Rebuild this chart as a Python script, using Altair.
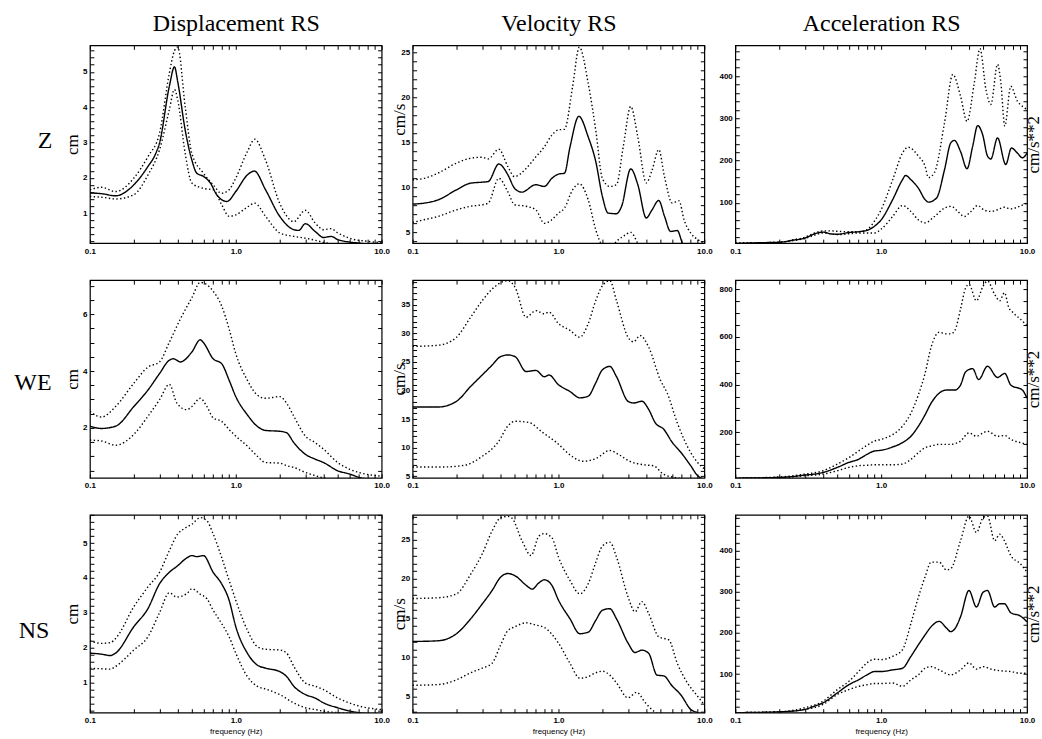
import math
import altair as alt
import pandas as pd

# ---------------- data ----------------
# Z component
ZD_F_MEAN = [0.1, 0.12, 0.15, 0.2, 0.25, 0.28, 0.3, 0.35, 0.38, 0.4, 0.45, 0.5, 0.54, 0.6, 0.67, 0.74, 0.8, 0.87, 1.0, 1.2, 1.34, 1.6, 2.0, 2.5, 2.7, 3.0, 3.5, 4.0, 4.5, 5.0, 6.0, 7.0, 8.0, 10.0]
ZD_MEAN = [1.57, 1.55, 1.49, 1.80, 2.32, 2.65, 2.98, 4.58, 5.14, 4.72, 3.35, 2.5, 2.13, 2.04, 1.85, 1.52, 1.38, 1.33, 1.61, 2.08, 2.19, 1.66, 0.91, 0.53, 0.51, 0.70, 0.48, 0.31, 0.34, 0.25, 0.18, 0.15, 0.12, 0.08]
ZD_F_UP = [0.1, 0.12, 0.15, 0.2, 0.25, 0.3, 0.35, 0.38, 0.4, 0.45, 0.5, 0.6, 0.7, 0.8, 0.9, 1.0, 1.2, 1.35, 1.6, 2.0, 2.5, 3.0, 3.5, 4.0, 4.5, 5.0, 6.0, 8.0, 10.0]
ZD_UP = [1.66, 1.73, 1.61, 1.99, 2.6, 3.26, 4.95, 5.6, 5.7, 4.01, 2.69, 2.13, 1.8, 1.56, 1.66, 1.99, 2.74, 3.09, 2.5, 1.28, 0.76, 1.08, 0.72, 0.53, 0.56, 0.44, 0.29, 0.2, 0.16]
ZD_F_LO = [0.1, 0.12, 0.15, 0.2, 0.25, 0.3, 0.35, 0.38, 0.4, 0.45, 0.5, 0.6, 0.7, 0.8, 0.9, 1.0, 1.2, 1.35, 1.6, 2.0, 2.5, 3.0, 3.5, 4.0, 4.5, 5.0, 6.0, 8.0, 10.0]
ZD_LO = [1.47, 1.45, 1.40, 1.52, 2.08, 2.79, 3.92, 4.5, 4.2, 2.69, 1.85, 1.70, 1.66, 1.24, 0.91, 0.95, 1.17, 1.28, 0.91, 0.44, 0.34, 0.29, 0.23, 0.17, 0.13, 0.10, 0.08, 0.06, 0.05]

ZV_F_MEAN = [0.1, 0.12, 0.15, 0.2, 0.25, 0.3, 0.33, 0.39, 0.45, 0.5, 0.56, 0.7, 0.8, 0.9, 1.0, 1.1, 1.2, 1.38, 1.6, 1.8, 2.0, 2.19, 2.5, 2.71, 3.13, 3.5, 4.0, 4.38, 4.87, 5.33, 5.87, 6.53, 7.07, 8.0, 10.0]
ZV_MEAN = [8.14, 8.25, 8.62, 9.73, 10.47, 10.58, 10.65, 12.6, 11.4, 9.9, 9.47, 10.3, 10.1, 11.0, 11.47, 11.58, 14.5, 17.9, 15.6, 12.9, 9.0, 7.14, 7.07, 7.9, 12.06, 10.3, 6.6, 7.5, 8.55, 6.8, 5.1, 5.2, 3.8, 2.5, 1.5]
ZV_F_UP = [0.1, 0.12, 0.15, 0.2, 0.25, 0.3, 0.33, 0.39, 0.45, 0.5, 0.6, 0.7, 0.8, 0.9, 1.0, 1.1, 1.25, 1.39, 1.6, 1.8, 2.0, 2.25, 2.5, 2.78, 3.13, 3.5, 4.0, 4.38, 4.87, 5.33, 6.03, 6.71, 7.26, 8.08, 9.0, 10.0]
ZV_UP = [10.84, 11.0, 11.6, 12.7, 13.24, 13.35, 13.17, 14.24, 12.3, 11.2, 12.1, 13.4, 14.5, 15.8, 16.4, 16.46, 21.2, 25.6, 21.56, 16.4, 11.0, 10.1, 10.3, 14.5, 19.0, 15.6, 10.5, 11.9, 14.2, 11.2, 8.25, 8.5, 6.4, 4.9, 4.2, 3.8]
ZV_F_LO = [0.1, 0.12, 0.15, 0.2, 0.25, 0.3, 0.33, 0.39, 0.45, 0.5, 0.6, 0.7, 0.8, 0.9, 1.0, 1.1, 1.25, 1.39, 1.6, 1.8, 2.0, 2.25, 2.5, 2.78, 3.13, 3.5, 4.0, 5.0, 10.0]
ZV_LO = [6.1, 6.4, 6.77, 7.5, 7.9, 8.07, 8.25, 11.0, 9.5, 8.07, 7.9, 7.5, 6.0, 6.4, 7.14, 7.7, 9.73, 10.4, 8.6, 5.3, 3.5, 3.0, 4.0, 4.55, 5.0, 3.8, 2.5, 2.0, 1.5]

ZA_F_MEAN = [0.1, 0.15, 0.2, 0.25, 0.3, 0.35, 0.4, 0.45, 0.5, 0.6, 0.7, 0.8, 0.9, 1.0, 1.2, 1.4, 1.47, 1.6, 1.8, 2.0, 2.11, 2.4, 2.72, 3.0, 3.18, 3.5, 3.88, 4.24, 4.59, 4.96, 5.36, 5.65, 6.28, 7.15, 7.82, 8.59, 9.29, 10.0]
ZA_MEAN = [4, 6, 7, 12, 17, 27, 31, 27, 26, 30, 32, 35, 45, 60, 108, 155, 165, 155, 135, 108, 102, 112, 179, 242, 248, 222, 181, 234, 283, 262, 211, 204, 254, 191, 230, 218, 207, 218]
ZA_F_UP = [0.1, 0.2, 0.25, 0.3, 0.35, 0.4, 0.45, 0.5, 0.6, 0.7, 0.8, 0.9, 1.0, 1.2, 1.4, 1.53, 1.8, 2.0, 2.11, 2.32, 2.72, 3.1, 3.5, 3.88, 4.35, 4.76, 5.23, 5.65, 6.28, 6.62, 7.04, 7.74, 8.59, 9.29, 10.0]
ZA_UP = [5, 7, 13, 19, 29, 34, 34, 33, 32, 32, 37, 57, 84, 155, 218, 232, 211, 187, 160, 172, 290, 404, 353, 293, 384, 465, 368, 333, 428, 384, 282, 376, 341, 329, 321]
ZA_F_LO = [0.1, 0.2, 0.25, 0.3, 0.35, 0.4, 0.45, 0.5, 0.6, 0.7, 0.8, 0.9, 1.0, 1.2, 1.4, 1.6, 1.8, 2.0, 2.32, 2.72, 3.02, 3.35, 3.72, 4.13, 4.59, 5.09, 5.65, 6.28, 6.97, 7.74, 8.59, 10.0]
ZA_LO = [5, 7, 11, 16, 24, 29, 27, 25, 27, 29, 29, 29, 38, 68, 94, 80, 60, 53, 68, 88, 92, 80, 68, 80, 94, 83, 80, 84, 90, 86, 90, 100]

# WE component
WD_F_MEAN = [0.1, 0.12, 0.15, 0.2, 0.25, 0.3, 0.35, 0.375, 0.417, 0.5, 0.571, 0.6, 0.7, 0.8, 0.9, 1.0, 1.2, 1.4, 1.6, 2.0, 2.23, 2.5, 3.0, 3.5, 4.0, 5.0, 6.0, 7.0, 10.0]
WD_MEAN = [2.06, 1.98, 2.06, 2.75, 3.33, 3.91, 4.38, 4.43, 4.32, 4.67, 5.1, 5.0, 4.43, 4.26, 3.68, 3.1, 2.46, 2.06, 1.91, 1.88, 1.83, 1.48, 1.07, 0.9, 0.78, 0.49, 0.38, 0.26, 0.15]
WD_F_UP = [0.1, 0.12, 0.15, 0.2, 0.25, 0.3, 0.35, 0.417, 0.5, 0.571, 0.634, 0.7, 0.8, 0.9, 1.0, 1.2, 1.4, 1.6, 2.0, 2.23, 2.5, 3.0, 3.5, 4.0, 5.0, 6.0, 7.0, 10.0]
WD_UP = [2.58, 2.38, 2.75, 3.57, 4.14, 4.32, 5.01, 5.83, 6.58, 7.12, 7.04, 6.81, 6.29, 5.48, 4.61, 3.68, 3.16, 3.04, 3.1, 2.87, 2.41, 1.71, 1.48, 1.25, 0.78, 0.55, 0.43, 0.3]
WD_F_LO = [0.1, 0.12, 0.15, 0.2, 0.25, 0.3, 0.35, 0.395, 0.462, 0.5, 0.571, 0.634, 0.7, 0.8, 0.9, 1.0, 1.2, 1.4, 1.6, 2.0, 2.23, 2.5, 3.0, 3.5, 4.0, 5.0, 10.0]
WD_LO = [1.57, 1.54, 1.39, 1.77, 2.41, 2.99, 3.53, 2.87, 2.64, 2.75, 3.04, 2.75, 2.35, 2.23, 1.94, 1.71, 1.36, 1.01, 0.78, 0.76, 0.67, 0.61, 0.43, 0.32, 0.24, 0.18, 0.12]

WV_F_MEAN = [0.1, 0.15, 0.2, 0.25, 0.3, 0.35, 0.4, 0.45, 0.505, 0.6, 0.7, 0.8, 0.861, 1.0, 1.2, 1.4, 1.6, 1.8, 2.0, 2.25, 2.5, 3.0, 3.27, 3.73, 4.15, 4.62, 5.27, 6.03, 6.89, 8.08, 8.99, 10.0]
WV_MEAN = [17.1, 17.1, 18.1, 20.7, 22.7, 24.4, 25.9, 26.2, 25.9, 23.3, 23.5, 22.4, 22.7, 21.0, 19.8, 18.7, 19.0, 21.3, 23.6, 24.2, 22.4, 18.1, 17.8, 18.1, 16.7, 14.3, 13.2, 10.9, 9.2, 6.8, 5.1, 4.5]
WV_F_UP = [0.1, 0.15, 0.2, 0.25, 0.3, 0.35, 0.45, 0.505, 0.6, 0.7, 0.8, 0.861, 1.0, 1.2, 1.4, 1.6, 1.8, 2.0, 2.25, 2.5, 3.0, 3.27, 3.63, 4.15, 5.0, 5.57, 6.53, 8.08, 8.99, 10.0]
WV_UP = [27.7, 27.9, 29.3, 32.8, 35.7, 37.7, 39.2, 38.0, 32.8, 33.96, 33.4, 33.7, 31.7, 30.5, 29.3, 31.7, 35.7, 38.3, 39.2, 35.7, 29.3, 28.5, 29.6, 27.6, 21.8, 19.5, 14.3, 9.1, 7.4, 6.3]
WV_F_LO = [0.1, 0.156, 0.227, 0.297, 0.387, 0.454, 0.505, 0.626, 0.774, 0.957, 1.25, 1.47, 1.81, 2.25, 2.62, 3.09, 3.84, 4.5, 5.27, 6.53, 10.0]
WV_LO = [6.6, 6.6, 6.9, 8.4, 11.0, 13.9, 14.6, 14.4, 12.7, 11.0, 8.4, 7.6, 8.1, 9.5, 8.7, 7.6, 7.0, 6.8, 5.3, 4.7, 4.0]

WA_F_MEAN = [0.1, 0.2, 0.25, 0.3, 0.35, 0.4, 0.5, 0.6, 0.7, 0.8, 0.9, 1.0, 1.2, 1.4, 1.6, 1.8, 2.0, 2.2, 2.5, 2.8, 3.2, 3.5, 3.8, 4.24, 4.66, 5.36, 6.28, 7.04, 7.74, 9.29, 10.0]
WA_MEAN = [7, 10, 14, 20, 24, 31, 52, 73, 86, 107, 121, 124, 138, 156, 183, 225, 273, 322, 364, 377, 377, 398, 454, 467, 421, 477, 430, 447, 398, 377, 343]
WA_F_UP = [0.1, 0.2, 0.3, 0.4, 0.5, 0.6, 0.7, 0.8, 0.9, 1.0, 1.2, 1.4, 1.6, 1.8, 2.0, 2.2, 2.5, 2.8, 3.0, 3.2, 3.5, 3.8, 4.0, 4.5, 5.0, 5.36, 6.0, 6.5, 7.0, 7.5, 8.0, 9.0, 10.0]
WA_UP = [7, 12, 24, 38, 66, 93, 121, 145, 163, 170, 190, 225, 280, 357, 447, 557, 620, 613, 613, 627, 717, 807, 821, 752, 814, 835, 779, 752, 786, 724, 703, 675, 648]
WA_F_LO = [0.1, 0.2, 0.3, 0.4, 0.5, 0.6, 0.7, 0.8, 0.9, 1.0, 1.2, 1.4, 1.6, 1.8, 2.0, 2.2, 2.5, 3.0, 3.5, 4.0, 4.5, 5.0, 5.36, 6.28, 7.04, 7.74, 9.0, 10.0]
WA_LO = [7, 8, 17, 24, 38, 52, 59, 61, 63, 63, 63, 66, 86, 114, 135, 142, 149, 149, 163, 197, 183, 197, 204, 183, 186, 170, 156, 149]

# NS component
ND_F_MEAN = [0.1, 0.12, 0.138, 0.15, 0.2, 0.25, 0.3, 0.35, 0.4, 0.45, 0.5, 0.541, 0.6, 0.7, 0.8, 0.9, 1.0, 1.2, 1.4, 1.6, 2.0, 2.23, 2.5, 3.0, 3.5, 4.0, 5.0, 6.0, 7.0, 10.0]
ND_MEAN = [1.84, 1.81, 1.77, 1.84, 2.6, 3.12, 3.83, 4.16, 4.35, 4.54, 4.64, 4.61, 4.64, 4.16, 3.83, 3.36, 2.6, 1.84, 1.5, 1.41, 1.31, 1.17, 0.89, 0.65, 0.55, 0.41, 0.27, 0.18, 0.13, 0.08]
ND_F_UP = [0.1, 0.12, 0.138, 0.15, 0.2, 0.25, 0.3, 0.35, 0.4, 0.45, 0.5, 0.571, 0.634, 0.7, 0.8, 0.9, 1.0, 1.2, 1.4, 1.6, 2.0, 2.23, 2.5, 3.0, 3.5, 4.0, 5.0, 6.0, 7.0, 10.0]
ND_UP = [2.19, 2.12, 2.14, 2.26, 3.17, 3.74, 4.16, 4.78, 5.26, 5.43, 5.54, 5.73, 5.64, 5.26, 4.59, 3.93, 3.36, 2.5, 2.03, 1.95, 1.93, 1.84, 1.46, 0.98, 0.89, 0.79, 0.55, 0.41, 0.32, 0.22]
ND_F_LO = [0.1, 0.12, 0.138, 0.15, 0.2, 0.25, 0.3, 0.35, 0.395, 0.462, 0.5, 0.571, 0.634, 0.7, 0.8, 0.9, 1.0, 1.2, 1.4, 1.6, 2.0, 2.5, 3.0, 3.5, 4.0, 5.0, 10.0]
ND_LO = [1.41, 1.39, 1.38, 1.46, 1.93, 2.31, 3.0, 3.57, 3.45, 3.55, 3.69, 3.53, 3.4, 3.07, 2.69, 2.31, 1.84, 1.17, 0.89, 0.81, 0.65, 0.41, 0.27, 0.22, 0.17, 0.13, 0.08]

NV_F_MEAN = [0.1, 0.15, 0.2, 0.25, 0.3, 0.35, 0.4, 0.45, 0.505, 0.6, 0.66, 0.734, 0.8, 0.9, 1.0, 1.2, 1.4, 1.6, 1.8, 2.0, 2.25, 2.5, 3.0, 3.35, 3.73, 4.15, 4.74, 5.27, 6.03, 6.89, 8.08, 8.99, 10.0]
NV_MEAN = [12.0, 12.1, 13.0, 14.9, 16.8, 18.5, 20.2, 20.7, 20.4, 19.2, 18.7, 19.5, 19.9, 19.2, 17.3, 14.9, 13.0, 13.2, 14.7, 16.0, 16.2, 14.9, 11.8, 10.6, 10.9, 10.5, 7.7, 7.6, 6.3, 5.2, 3.3, 2.9, 2.5]
NV_F_UP = [0.1, 0.15, 0.2, 0.25, 0.3, 0.35, 0.4, 0.45, 0.479, 0.562, 0.649, 0.734, 0.8, 0.9, 1.0, 1.2, 1.4, 1.6, 1.8, 2.0, 2.25, 2.5, 3.0, 3.35, 3.73, 4.15, 4.87, 5.71, 6.53, 7.66, 8.99, 10.0]
NV_UP = [17.5, 17.6, 18.1, 20.6, 23.2, 26.1, 27.8, 28.0, 27.8, 24.9, 23.0, 25.5, 25.8, 25.3, 22.8, 19.8, 18.1, 19.4, 22.1, 24.2, 24.7, 22.8, 17.7, 15.8, 17.1, 15.6, 12.6, 12.2, 9.2, 6.7, 5.0, 3.9]
NV_F_LO = [0.1, 0.15, 0.2, 0.25, 0.3, 0.35, 0.4, 0.45, 0.505, 0.6, 0.7, 0.8, 1.0, 1.2, 1.4, 1.6, 1.8, 2.0, 2.25, 2.5, 3.0, 3.44, 3.93, 4.5, 5.0, 10.0]
NV_LO = [6.4, 6.5, 7.1, 8.0, 8.6, 9.2, 11.5, 13.4, 13.9, 14.4, 14.1, 13.8, 11.8, 9.2, 7.3, 7.5, 8.0, 8.2, 7.7, 6.7, 4.8, 5.5, 4.2, 3.1, 2.6, 1.5]

NA_F_MEAN = [0.1, 0.2, 0.25, 0.3, 0.35, 0.4, 0.5, 0.6, 0.7, 0.8, 0.9, 1.0, 1.2, 1.4, 1.6, 1.8, 2.0, 2.2, 2.5, 2.8, 3.0, 3.2, 3.5, 4.0, 4.5, 5.0, 5.36, 6.0, 6.5, 7.0, 7.74, 9.0, 10.0]
NA_MEAN = [6, 8, 10, 14, 22, 30, 54, 74, 86, 98, 106, 106, 110, 114, 143, 171, 195, 215, 228, 212, 203, 210, 239, 303, 263, 299, 303, 263, 271, 271, 249, 241, 227]
NA_F_UP = [0.1, 0.2, 0.3, 0.4, 0.5, 0.6, 0.7, 0.8, 0.9, 1.0, 1.2, 1.4, 1.6, 1.8, 2.0, 2.2, 2.5, 2.8, 3.0, 3.5, 4.0, 4.5, 5.0, 5.36, 6.0, 6.5, 7.0, 7.74, 9.0, 10.0]
NA_UP = [6, 8, 18, 34, 62, 82, 106, 127, 136, 135, 143, 159, 223, 287, 336, 372, 372, 353, 356, 424, 484, 444, 480, 484, 424, 440, 424, 388, 368, 348]
NA_F_LO = [0.1, 0.2, 0.3, 0.4, 0.5, 0.6, 0.7, 0.8, 0.9, 1.0, 1.2, 1.4, 1.6, 1.8, 2.0, 2.2, 2.5, 3.0, 3.5, 4.0, 4.5, 5.0, 5.65, 6.5, 7.74, 9.0, 10.0]
NA_LO = [6, 8, 14, 26, 50, 62, 70, 74, 77, 77, 78, 70, 86, 98, 114, 118, 110, 98, 110, 127, 112, 118, 112, 108, 106, 102, 102]

# axis ranges (lo, hi, major step, minor step) per panel, row by row
Y_RANGES = [
    [(0.15, 5.75, 1, 0.2), (3.8, 25.8, 5, 1), (5, 473, 100, 20)],
    [(0.24, 7.2, 2, 0.5), (4.7, 39.3, 5, 1), (8, 839, 200, 50)],
    [(0.13, 5.81, 1, 0.2), (2.9, 28.2, 5, 1), (6, 487, 100, 20)],
]
COL_TITLES = ["Displacement RS", "Velocity RS", "Acceleration RS"]
ROW_TITLES = ["Z", "WE", "NS"]
Y_UNITS = ["cm", "cm/s", "cm/s**2"]
X_TICKS = [0.1, 0.2, 0.3, 0.4, 0.5, 0.6, 0.7, 0.8, 0.9, 1, 2, 3, 4, 5, 6, 7, 8, 9, 10]
X_TITLE = "frequency (Hz)"

CURVES = [
    [[(ZD_F_MEAN, ZD_MEAN), (ZD_F_UP, ZD_UP), (ZD_F_LO, ZD_LO)],
     [(ZV_F_MEAN, ZV_MEAN), (ZV_F_UP, ZV_UP), (ZV_F_LO, ZV_LO)],
     [(ZA_F_MEAN, ZA_MEAN), (ZA_F_UP, ZA_UP), (ZA_F_LO, ZA_LO)]],
    [[(WD_F_MEAN, WD_MEAN), (WD_F_UP, WD_UP), (WD_F_LO, WD_LO)],
     [(WV_F_MEAN, WV_MEAN), (WV_F_UP, WV_UP), (WV_F_LO, WV_LO)],
     [(WA_F_MEAN, WA_MEAN), (WA_F_UP, WA_UP), (WA_F_LO, WA_LO)]],
    [[(ND_F_MEAN, ND_MEAN), (ND_F_UP, ND_UP), (ND_F_LO, ND_LO)],
     [(NV_F_MEAN, NV_MEAN), (NV_F_UP, NV_UP), (NV_F_LO, NV_LO)],
     [(NA_F_MEAN, NA_MEAN), (NA_F_UP, NA_UP), (NA_F_LO, NA_LO)]],
]

# ---------------- styling ----------------
SERIF = "Liberation Serif"
SANS = "Liberation Sans"
TICK = 4
WIDTH = 292
HEIGHT = 198
Y_TITLE_X = [-21, -17, 294]
Y_TITLE_Y = [[99, 74, 99], [99, 99, 99], [99, 99, 99]]
ROW_LABEL_X = [-45, -57, -56]
ROW_LABEL_Y = [96, 103, 116]


def frame(curves):
    rows = []
    for stat, (fs, vs) in zip(["mean", "upper", "lower"], curves):
        assert len(fs) == len(vs), (len(fs), len(vs))
        rows += [{"f": f, "v": v, "stat": stat} for f, v in zip(fs, vs)]
    return pd.DataFrame(rows)


def tick_values(lo, hi, step):
    k0 = math.ceil(lo / step - 1e-9)
    k1 = math.floor(hi / step + 1e-9)
    return [round(k * step, 6) for k in range(k0, k1 + 1)]


XLAB = "datum.value == 0.1 ? '0.1' : (datum.value == 1 ? '1.0' : (datum.value == 10 ? '10.0' : ''))"


def panel(r, c):
    lo, hi, major, minor = Y_RANGES[r][c]
    df = frame(CURVES[r][c])
    yt = tick_values(lo, hi, minor)
    ylab = f"abs(datum.value / {major} - round(datum.value / {major})) < 1e-6 ? format(datum.value, 'd') : ''"

    xk = dict(orient="bottom", values=X_TICKS, labelExpr=XLAB, tickSize=TICK, offset=-TICK,
              domain=False, grid=False, labelFont=SANS, labelFontSize=8, labelFontWeight="bold",
              labelPadding=4, labelAngle=0, labelFlush=False, labelOverlap=False)
    if r == 2:
        xk.update(title=X_TITLE, titleFont=SANS, titleFontSize=8, titleFontWeight="normal", titlePadding=3)
    else:
        xk.update(title=None)

    yk = dict(orient="left", values=yt, labelExpr=ylab, tickSize=TICK, offset=-TICK,
              domain=False, grid=False, labelFont=SANS, labelFontSize=8, labelFontWeight="bold",
              labelPadding=3, labelOverlap=False, title=Y_UNITS[c], titleFont=SERIF,
              titleFontSize=17, titleFontWeight="normal", titleAngle=270,
              titleAlign="center", titleBaseline="middle",
              titleX=Y_TITLE_X[c], titleY=Y_TITLE_Y[r][c])

    tk = dict(orient="top", values=X_TICKS, labels=False, tickSize=TICK,
              offset=-TICK, domain=False, grid=False)
    if r == 0:
        tk.update(title=COL_TITLES[c], titleFont=SERIF, titleFontSize=24,
                  titleFontWeight="normal", titlePadding=9, titleColor="black")
    else:
        tk.update(title=None)

    xs = alt.Scale(type="log", domain=[0.1, 10], nice=False)
    ys = alt.Scale(domain=[lo, hi], nice=False, zero=False)

    lines = alt.Chart(df).mark_line(clip=True, color="black", strokeWidth=1.4,
                                    interpolate="monotone").encode(
        x=alt.X("f:Q", scale=xs, axis=alt.Axis(**xk)),
        y=alt.Y("v:Q", scale=ys, axis=alt.Axis(**yk)),
        strokeDash=alt.StrokeDash(
            "stat:N",
            scale=alt.Scale(domain=["mean", "upper", "lower"],
                            range=[[1, 0], [1.4, 2.4], [1.4, 2.4]]),
            legend=None,
        ),
    )
    mirror = alt.Chart(df).mark_line(opacity=0).encode(
        x=alt.X("f:Q", axis=alt.Axis(**tk)),
        y=alt.Y("v:Q", axis=alt.Axis(orient="right", values=yt, labels=False, tickSize=TICK,
                                     offset=-TICK, domain=False, grid=False, title=None)),
        detail="stat:N",
    )
    layers = [lines, mirror]
    if c == 0:
        label = alt.Chart(pd.DataFrame({"label": [ROW_TITLES[r]]})).mark_text(
            font=SERIF, fontSize=24, align="center", baseline="middle", color="black"
        ).encode(text="label:N", x=alt.value(ROW_LABEL_X[r]), y=alt.value(ROW_LABEL_Y[r]))
        layers.append(label)
    return alt.layer(*layers).properties(width=WIDTH, height=HEIGHT)


panels = [panel(r, c) for r in range(3) for c in range(3)]

chart = alt.concat(*panels, columns=3, spacing={"row": 37, "column": 31}, bounds="flush").properties(
    padding={"left": 13, "top": 10, "right": 0, "bottom": 0}
).configure_view(stroke="black", strokeWidth=1.2).configure_axis(
    tickColor="black", labelColor="black", titleColor="black", tickWidth=1
)

chart.save("out.html", embed_options={"renderer": "svg", "actions": False})
